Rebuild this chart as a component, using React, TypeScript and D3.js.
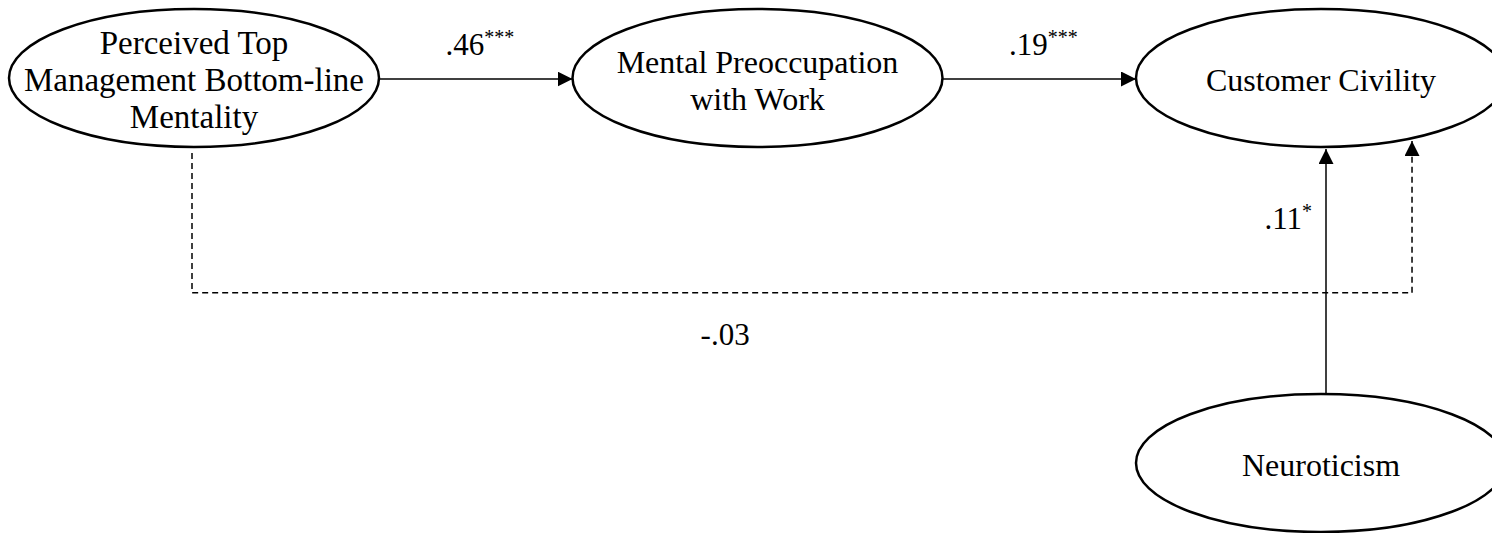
import * as d3 from 'd3';

// model variables (constructs)
const nodeIds = ['blm', 'mpw', 'cc', 'neu'];
const nodeLabels = [
  ['Perceived Top', 'Management Bottom-line', 'Mentality'],
  ['Mental Preoccupation', 'with Work'],
  ['Customer Civility'],
  ['Neuroticism'],
];
const nodeCols = ['left', 'mid', 'right', 'right'];
const nodeRows = ['top', 'top', 'top', 'bottom'];

// path coefficients
const pathFrom = ['blm', 'mpw', 'neu', 'blm'];
const pathTo = ['mpw', 'cc', 'cc', 'cc'];
const pathCoef = ['.46', '.19', '.11', '-.03'];
const pathStars = ['***', '***', '*', ''];
const pathDashed = [false, false, false, true];

const W = 1492;
const H = 533;
const RX = 185;
const RY = 69;
const FONT = '"Liberation Serif", "Times New Roman", serif';

export default function App() {
  const x = d3.scalePoint<string>().domain(['left', 'mid', 'right']).range([194, 1321]);
  const y = d3.scalePoint<string>().domain(['top', 'bottom']).range([78, 463]);

  const nodes = nodeIds.map((id, i) => ({
    id,
    lines: nodeLabels[i],
    cx: x(nodeCols[i]) as number,
    cy: y(nodeRows[i]) as number,
  }));
  const byId = (id: string) => nodes.find(n => n.id === id)!;

  // y on lower ellipse boundary at horizontal offset dx from the centre
  const bottomAt = (n: { cx: number; cy: number }, dx: number) =>
    n.cy + RY * Math.sqrt(1 - (dx / RX) ** 2);

  const line = d3.line<[number, number]>();
  const routeY = d3.scaleLinear().domain([0, 1]).range([78, 463])(0.558);

  const paths = pathFrom.map((f, i) => {
    const a = byId(f);
    const b = byId(pathTo[i]);
    let pts: [number, number][];
    let lx: number, ly: number, anchor: 'start' | 'middle' | 'end' = 'middle';
    if (pathDashed[i]) {
      const sx = a.cx - 2;
      const ex = b.cx + RX * 0.492;
      pts = [
        [sx, bottomAt(a, 2) + 6],
        [sx, routeY],
        [ex, routeY],
        [ex, bottomAt(b, ex - b.cx) + 3],
      ];
      lx = sx + (ex - sx) * 0.437;
      ly = routeY + 52;
    } else if (a.cy === b.cy) {
      pts = [
        [a.cx + RX, a.cy + 1],
        [b.cx - RX, b.cy + 1],
      ];
      lx = (a.cx + RX + b.cx - RX) / 2 + 4;
      ly = a.cy - 23;
    } else {
      const vx = a.cx + 5;
      pts = [
        [vx, a.cy - RY],
        [vx, bottomAt(b, vx - b.cx) + 2],
      ];
      lx = vx - 14;
      ly = (a.cy - RY + bottomAt(b, vx - b.cx)) / 2 - 41;
      anchor = 'end';
    }
    return { i, d: line(pts)!, lx, ly, anchor };
  });

  return (
    <div style={{ position: 'fixed', left: 0, top: 0, width: W, height: H, background: '#fff', overflow: 'hidden' }}>
      <svg width={W} height={H} style={{ display: 'block' }} fontFamily={FONT}>
        <defs>
          <marker
            id="arrow"
            markerUnits="userSpaceOnUse"
            markerWidth={15}
            markerHeight={15}
            refX={15}
            refY={7.5}
            orient="auto"
          >
            <path d="M0,0 L15,7.5 L0,15 Z" fill="#000" />
          </marker>
        </defs>

        {paths.map(p => (
          <g key={p.i}>
            <path
              d={p.d}
              fill="none"
              stroke="#000"
              strokeWidth={1.5}
              strokeDasharray={pathDashed[p.i] ? '6,4' : undefined}
              markerEnd="url(#arrow)"
            />
            <text x={p.lx} y={p.ly} fontSize={31} textAnchor={p.anchor} fill="#000">
              {pathCoef[p.i]}
              {pathStars[p.i] && (
                <tspan fontSize={20} dy={-11}>
                  {pathStars[p.i]}
                </tspan>
              )}
            </text>
          </g>
        ))}

        {nodes.map(n => (
          <g key={n.id}>
            <ellipse cx={n.cx} cy={n.cy} rx={RX} ry={RY} fill="#fff" stroke="#000" strokeWidth={2.5} />
            {n.lines.map((t, k) => (
              <text
                key={k}
                x={n.cx}
                y={n.cy + 13 + (k - (n.lines.length - 1) / 2) * 37}
                textAnchor="middle"
                fontSize={n.lines.length === 3 ? 33 : 32}
                fill="#000"
              >
                {t}
              </text>
            ))}
          </g>
        ))}
      </svg>
    </div>
  );
}
